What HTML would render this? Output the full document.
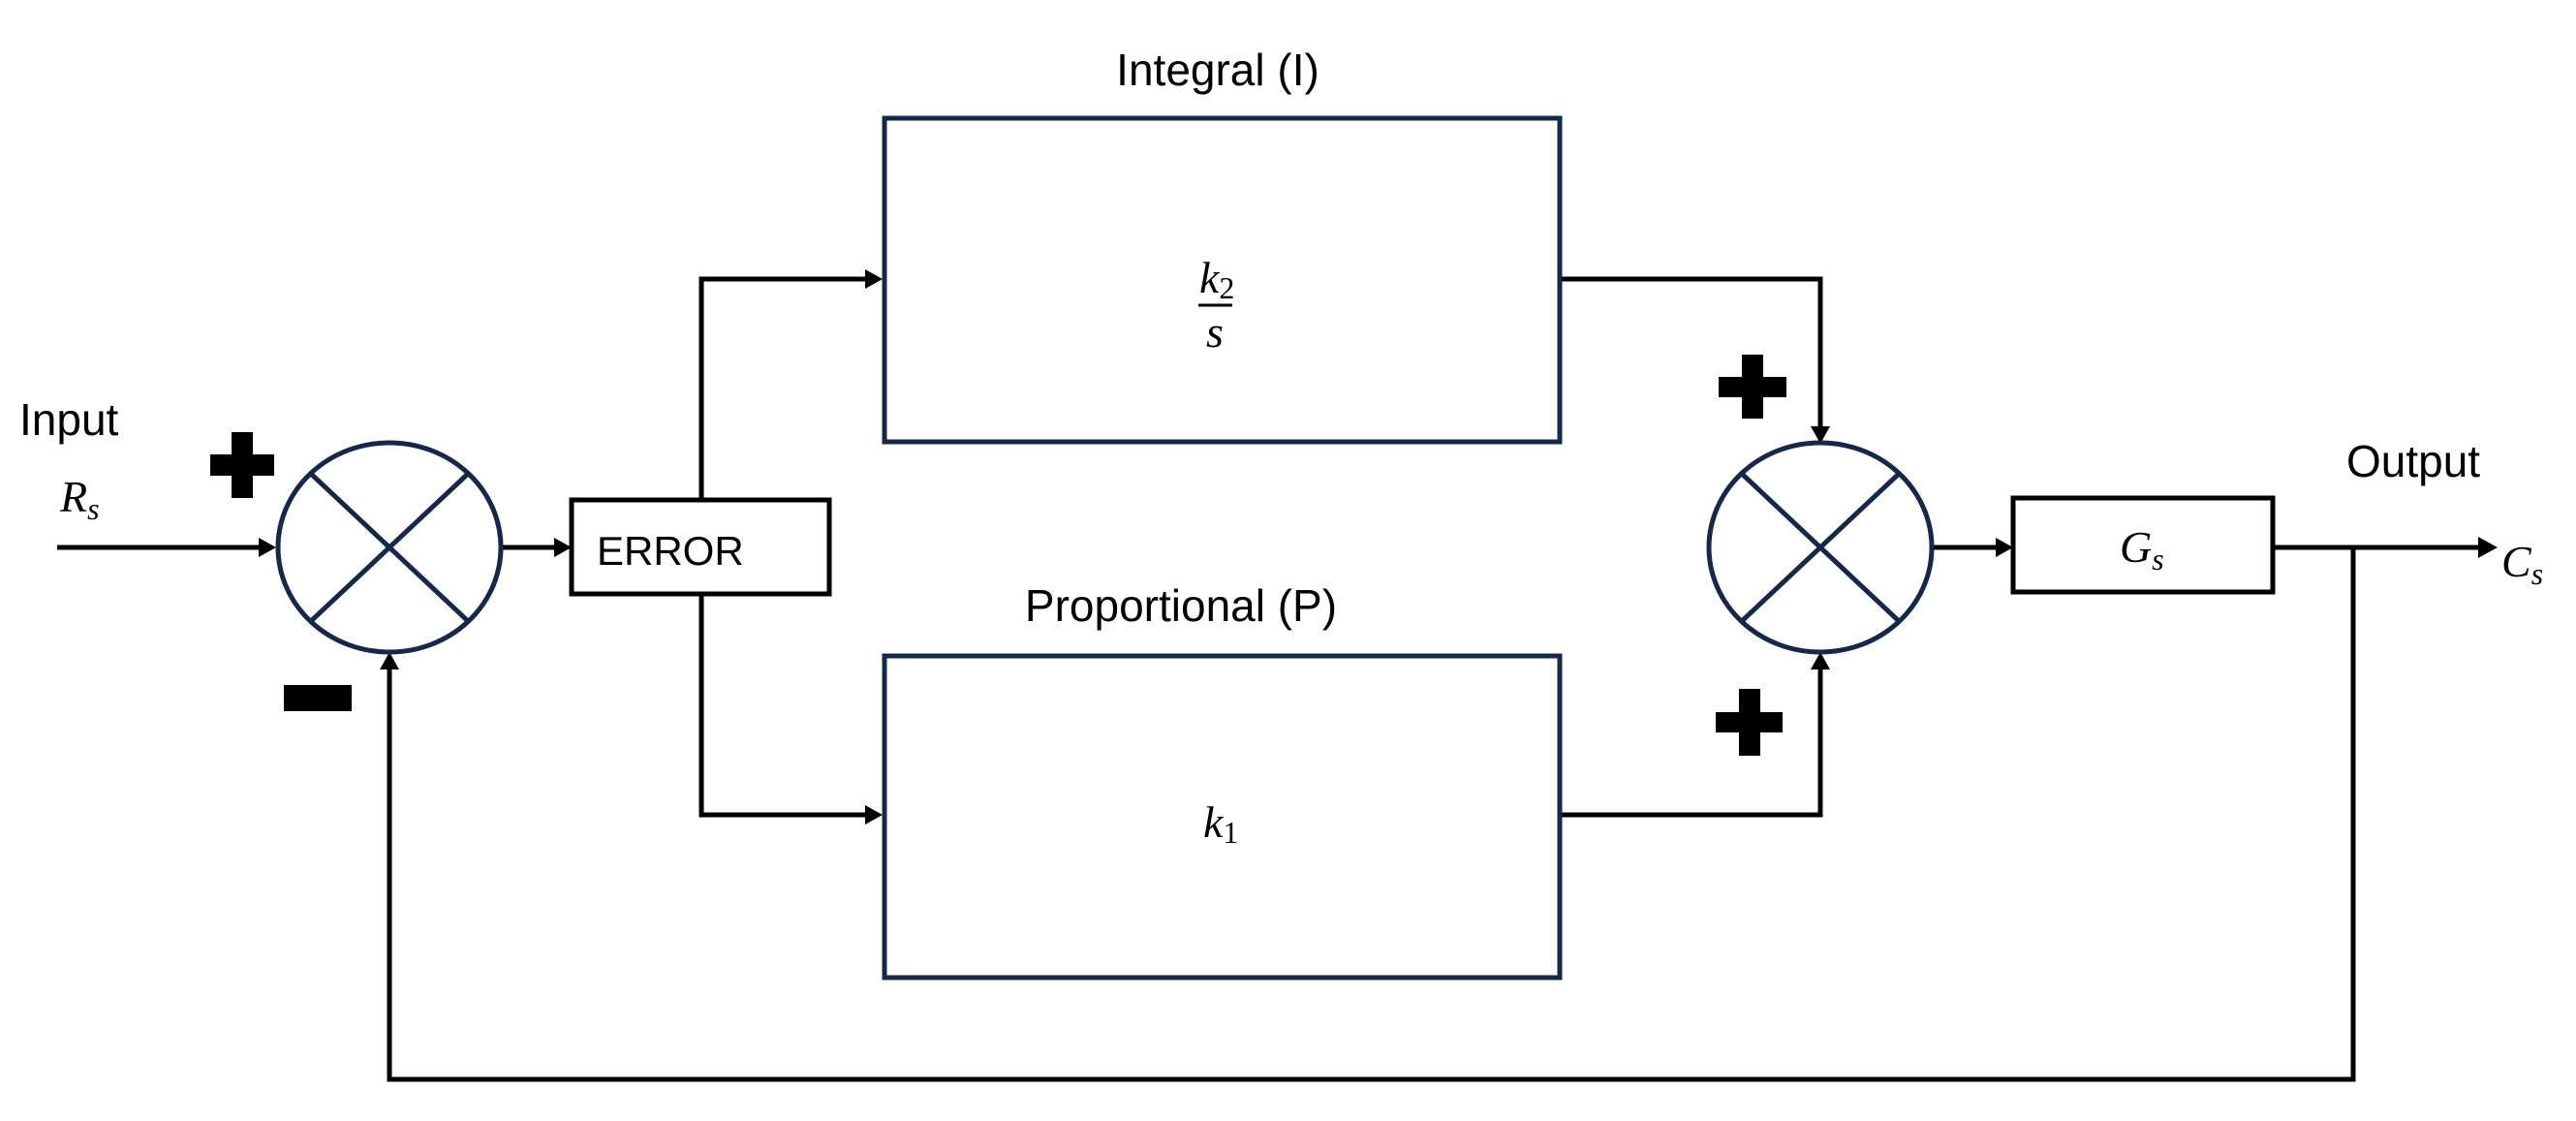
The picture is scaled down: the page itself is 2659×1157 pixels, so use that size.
<!DOCTYPE html>
<html><head><meta charset="utf-8"><style>
html,body{margin:0;padding:0;background:#fff;}
svg{display:block;}
.t{font-family:"Liberation Sans",sans-serif;fill:#000;}
.m{font-family:"Liberation Serif",serif;font-style:italic;fill:#000;}
</style></head><body>
<svg width="2659" height="1157" viewBox="0 0 2659 1157" xmlns="http://www.w3.org/2000/svg">
<defs>
<marker id="a" markerWidth="10" markerHeight="10" refX="9" refY="5" orient="auto" markerUnits="userSpaceOnUse" viewBox="0 0 10 10">
</marker>
</defs>
<g stroke="#000" stroke-width="5" fill="none">
  <!-- input line -->
  <line x1="59" y1="565" x2="270" y2="565"/>
  <!-- circle1 -> error -->
  <line x1="519" y1="565" x2="575" y2="565"/>
  <!-- branch -->
  <polyline points="724,514 724,288 898,288"/>
  <polyline points="724,614 724,841 898,841"/>
  <!-- integral out -->
  <polyline points="1610,288 1879,288 1879,443"/>
  <!-- prop out -->
  <polyline points="1610,841 1879,841 1879,688"/>
  <!-- circle2 -> G -->
  <line x1="1995" y1="565" x2="2062" y2="565"/>
  <!-- output -->
  <line x1="2346" y1="565" x2="2560" y2="565"/>
  <!-- feedback -->
  <polyline points="2429,565 2429,1114 402,1114 402,688"/>
  <!-- ERROR & G boxes -->
  <rect x="590" y="516" width="266" height="97"/>
  <rect x="2078" y="514" width="268" height="97"/>
</g>
<g fill="#000">
  <polygon points="285,565 267,555 267,575"/>
  <polygon points="590,565 572,555 572,575"/>
  <polygon points="911,288 893,278 893,298"/>
  <polygon points="911,841 893,831 893,851"/>
  <polygon points="1879,458 1869,440 1889,440"/>
  <polygon points="1879,673 1869,691 1889,691"/>
  <polygon points="402,673 392,691 412,691"/>
  <polygon points="2078,565 2060,555 2060,575"/>
  <polygon points="2578,565 2558,554 2558,576"/>
  <!-- plus / minus -->
  <rect x="217" y="469" width="66" height="22"/><rect x="239" y="446" width="22" height="68"/>
  <rect x="293" y="707" width="70" height="27"/>
  <rect x="1774" y="389" width="70" height="21"/><rect x="1798" y="366" width="22" height="66"/>
  <rect x="1771" y="735" width="69" height="21"/><rect x="1795" y="711" width="22" height="69"/>
</g>
<g stroke="#15284a" stroke-width="5" fill="none">
  <ellipse cx="402" cy="565" rx="115" ry="108"/>
  <line x1="321" y1="489" x2="483" y2="641"/>
  <line x1="483" y1="489" x2="321" y2="641"/>
  <ellipse cx="1879" cy="565" rx="115" ry="108"/>
  <line x1="1798" y1="489" x2="1960" y2="641"/>
  <line x1="1960" y1="489" x2="1798" y2="641"/>
  <rect x="913" y="122" width="697" height="334"/>
  <rect x="913" y="677" width="697" height="332"/>
</g>
<line x1="1237" y1="315" x2="1272" y2="315" stroke="#000" stroke-width="3"/>
<text class="t" x="20" y="449" font-size="46">Input</text>
<text class="m" x="62" y="528" font-size="46">R<tspan font-size="32" dy="8">s</tspan></text>
<text class="t" x="616" y="583" font-size="42">ERROR</text>
<text class="t" x="1257" y="88" font-size="46" text-anchor="middle">Integral (I)</text>
<text class="t" x="1219" y="641" font-size="46" text-anchor="middle">Proportional (P)</text>
<text class="m" x="1238" y="302" font-size="46">k<tspan font-size="32" dy="6" font-style="normal">2</tspan></text>
<text class="m" x="1254" y="358" font-size="46" text-anchor="middle">s</text>
<text class="m" x="1242" y="864" font-size="46">k<tspan font-size="32" dy="6" font-style="normal">1</tspan></text>
<text class="m" x="2188" y="580" font-size="46">G<tspan font-size="32" dy="8">s</tspan></text>
<text class="t" x="2422" y="492" font-size="46">Output</text>
<text class="m" x="2582" y="595" font-size="46">C<tspan font-size="32" dy="8">s</tspan></text>
</svg>
</body></html>
